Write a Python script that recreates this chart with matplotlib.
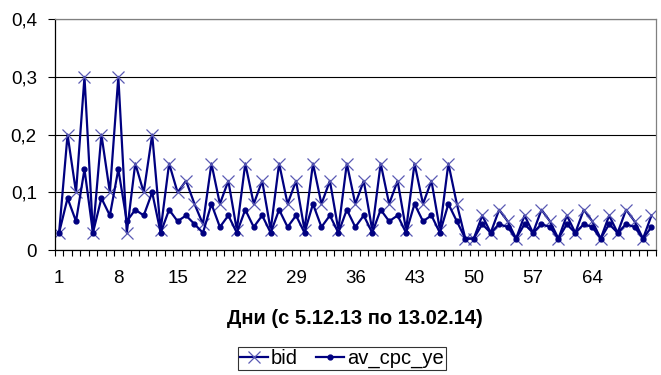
import numpy as np
import matplotlib
matplotlib.use("Agg")
import matplotlib.pyplot as plt
from matplotlib.ticker import MultipleLocator, FuncFormatter

plt.rcParams["font.family"] = ["Liberation Sans", "DejaVu Sans"]

days = list(range(1, 72))
bid = [0.03, 0.2, 0.1, 0.3, 0.03, 0.2, 0.1, 0.3, 0.03, 0.15,
       0.1, 0.2, 0.035, 0.15, 0.1, 0.12, 0.08, 0.045, 0.15, 0.08,
       0.12, 0.035, 0.15, 0.08, 0.12, 0.035, 0.15, 0.08, 0.12, 0.035,
       0.15, 0.08, 0.12, 0.035, 0.15, 0.08, 0.12, 0.035, 0.15, 0.08,
       0.12, 0.035, 0.15, 0.08, 0.12, 0.035, 0.15, 0.08, 0.02, 0.02,
       0.06, 0.03, 0.07, 0.05, 0.02, 0.06, 0.03, 0.07, 0.05, 0.02,
       0.06, 0.03, 0.07, 0.05, 0.02, 0.06, 0.03, 0.07, 0.05, 0.02,
       0.06]
av_cpc_ye = [0.03, 0.09, 0.05, 0.14, 0.03, 0.09, 0.06, 0.14, 0.05, 0.07,
             0.06, 0.1, 0.03, 0.07, 0.05, 0.06, 0.045, 0.03, 0.08, 0.04,
             0.06, 0.03, 0.07, 0.04, 0.06, 0.03, 0.07, 0.04, 0.06, 0.03,
             0.08, 0.04, 0.06, 0.03, 0.07, 0.04, 0.06, 0.03, 0.07, 0.05,
             0.06, 0.03, 0.08, 0.05, 0.06, 0.03, 0.08, 0.05, 0.02, 0.02,
             0.045, 0.03, 0.045, 0.04, 0.02, 0.045, 0.03, 0.045, 0.04, 0.02,
             0.045, 0.03, 0.045, 0.04, 0.02, 0.045, 0.03, 0.045, 0.04, 0.02,
             0.04]
label_days = [1, 8, 15, 22, 29, 36, 43, 50, 57, 64]

navy = "#000080"

fig = plt.figure(figsize=(6.61, 3.75), dpi=100)
ax = fig.add_axes([0.083, 0.333, 0.909, 0.616])

ax.plot(days, bid, color=navy, lw=1.6, marker="x", ms=8, mew=0.9,
        mec="#5a5ab4", label="bid")
ax.plot(days, av_cpc_ye, color=navy, lw=1.6, marker="o", ms=3.5,
        mfc=navy, mec=navy, label="av_cpc_ye")

ax.set_xlim(0.5, 71.5)
ax.set_ylim(0, 0.4)
ax.yaxis.set_major_locator(MultipleLocator(0.1))
ax.yaxis.set_major_formatter(
    FuncFormatter(lambda v, p: "0" if v == 0 else f"{v:.1f}".replace(".", ",")))
ax.grid(axis="y", color="black", lw=0.8)
ax.set_axisbelow(True)

ax.set_xticks(label_days)
ax.set_xticklabels([str(d) for d in label_days])
ax.set_xticks(np.arange(0.5, 72, 1), minor=True)
ax.tick_params(axis="x", which="major", length=0, pad=14, labelsize=13.5)
ax.tick_params(axis="x", which="minor", length=4, width=0.8, color="black")
ax.tick_params(axis="y", length=5, width=0.8, labelsize=13.5, pad=8)

for s in ("left", "bottom"):
    ax.spines[s].set_color("black")
    ax.spines[s].set_linewidth(0.9)
for s in ("top", "right"):
    ax.spines[s].set_color("#808080")
    ax.spines[s].set_linewidth(0.9)

ax.set_xlabel("Дни (с 5.12.13 по 13.02.14)", fontsize=14.5, fontweight="bold")
ax.xaxis.set_label_coords(0.5, -0.255)
ax.xaxis.label.set_va("top")

leg = fig.legend(loc="center", bbox_to_anchor=(0.517, 0.044), ncol=2,
                 frameon=True, fancybox=False, edgecolor="black",
                 fontsize=14.5, handlelength=1.4, handletextpad=0.15,
                 columnspacing=0.9, borderpad=0.1, borderaxespad=0)
leg.get_frame().set_linewidth(0.8)

fig.savefig("out.png", dpi=100)
